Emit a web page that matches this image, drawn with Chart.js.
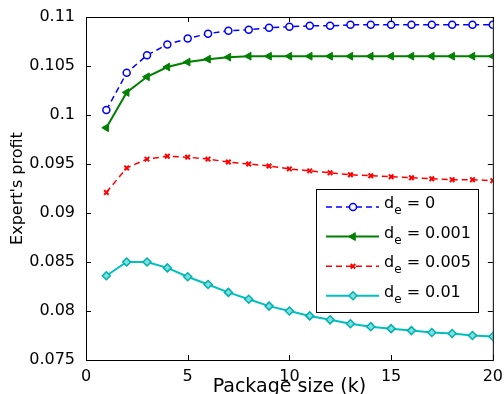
<!DOCTYPE html>
<html>
<head>
<meta charset="utf-8">
<script src="https://cdn.jsdelivr.net/npm/chart.js@4"></script>
<style>
  body { margin: 0; background: #fff; }
  #wrap { width: 504px; height: 394px; }
</style>
</head>
<body>
<div id="wrap"><canvas id="profitChart"></canvas></div>
<script>
// package size k
const packageSizes = [1, 2, 3, 4, 5, 6, 7, 8, 9, 10, 11, 12, 13, 14, 15, 16, 17, 18, 19, 20];

// expert's profit for each d_e
const profitD0    = [0.1005, 0.1043, 0.1061, 0.1072, 0.1078, 0.1083, 0.1086, 0.1087, 0.1089, 0.1090,
                     0.1091, 0.1091, 0.1092, 0.1092, 0.1092, 0.1092, 0.1092, 0.1092, 0.1092, 0.1092];
const profitD001  = [0.0987, 0.1023, 0.1039, 0.1049, 0.1054, 0.1057, 0.1059, 0.1060, 0.1060, 0.1060,
                     0.1060, 0.1060, 0.1060, 0.1060, 0.1060, 0.1060, 0.1060, 0.1060, 0.1060, 0.1060];
const profitD005  = [0.0921, 0.0946, 0.0955, 0.0958, 0.0957, 0.0955, 0.0952, 0.0950, 0.0948, 0.0945,
                     0.0943, 0.0941, 0.0939, 0.0938, 0.0937, 0.0936, 0.0935, 0.0934, 0.0934, 0.0933];
const profitD01   = [0.0836, 0.0850, 0.0850, 0.0844, 0.0835, 0.0827, 0.0819, 0.0812, 0.0805, 0.0800,
                     0.0795, 0.0791, 0.0787, 0.0784, 0.0782, 0.0780, 0.0778, 0.0777, 0.0775, 0.0774];

const seriesValues = ["0", "0.001", "0.005", "0.01"];

const xTicks = [0, 5, 10, 15, 20];
const yTicks = [0.075, 0.08, 0.085, 0.09, 0.095, 0.1, 0.105, 0.11];
const yTickLabels = ["0.075", "0.08", "0.085", "0.09", "0.095", "0.1", "0.105", "0.11"];

const toPoints = ys => ys.map((y, i) => ({ x: packageSizes[i], y: y }));

const FONT = "'DejaVu Sans', sans-serif";

// Rahmen + Ticks nach innen (MATLAB-Stil)
const framePlugin = {
  id: "frame",
  afterDraw(chart) {
    const { ctx, chartArea: a, scales } = chart;
    const len = 5;
    ctx.save();
    ctx.strokeStyle = "#000";
    ctx.lineWidth = 1;
    ctx.strokeRect(a.left + 0.5, a.top + 0.5, a.right - a.left, a.bottom - a.top);
    ctx.beginPath();
    xTicks.forEach(v => {
      const px = Math.round(scales.x.getPixelForValue(v)) + 0.5;
      ctx.moveTo(px, a.bottom); ctx.lineTo(px, a.bottom - len);
      ctx.moveTo(px, a.top); ctx.lineTo(px, a.top + len);
    });
    yTicks.forEach(v => {
      const py = Math.round(scales.y.getPixelForValue(v)) + 0.5;
      ctx.moveTo(a.left, py); ctx.lineTo(a.left + len, py);
      ctx.moveTo(a.right, py); ctx.lineTo(a.right - len, py);
    });
    ctx.stroke();
    ctx.restore();
  }
};

// Legende mit Subscript "e"
const legendPlugin = {
  id: "subLegend",
  afterDraw(chart) {
    const { ctx } = chart;
    const box = { x: 316, y: 189, w: 162, h: 123 };
    ctx.save();
    ctx.fillStyle = "#fff";
    ctx.fillRect(box.x, box.y, box.w, box.h);
    ctx.strokeStyle = "#000";
    ctx.lineWidth = 1;
    ctx.strokeRect(box.x + 0.5, box.y + 0.5, box.w, box.h);

    chart.data.datasets.forEach((ds, i) => {
      const y = box.y + 18 + i * 29.6;
      ctx.strokeStyle = ds.borderColor;
      ctx.lineWidth = ds.borderWidth;
      ctx.setLineDash(ds.borderDash || []);
      ctx.beginPath();
      ctx.moveTo(box.x + 10, y);
      ctx.lineTo(box.x + 63, y);
      ctx.stroke();
      ctx.setLineDash([]);
      ctx.fillStyle = ds.pointBackgroundColor;
      ctx.strokeStyle = ds.pointBorderColor;
      ctx.lineWidth = ds.pointBorderWidth;
      Chart.helpers.drawPoint(ctx, {
        pointStyle: ds.pointStyle,
        rotation: ds.pointRotation || 0,
        radius: ds.pointRadius,
        borderWidth: ds.pointBorderWidth
      }, box.x + 37, y);

      ctx.fillStyle = "#000";
      ctx.textBaseline = "alphabetic";
      ctx.textAlign = "left";
      let tx = box.x + 68;
      ctx.font = "16px " + FONT;
      ctx.fillText("d", tx, y + 1);
      tx += ctx.measureText("d").width;
      ctx.font = "12px " + FONT;
      ctx.fillText("e", tx, y + 7);
      tx += ctx.measureText("e").width;
      ctx.font = "16px " + FONT;
      ctx.fillText(" = " + seriesValues[i], tx, y + 1);
    });
    ctx.restore();
  }
};

new Chart(document.getElementById("profitChart"), {
  type: "line",
  data: {
    datasets: [
      {
        label: "d_e = 0",
        data: toPoints(profitD0),
        borderColor: "#0000ff",
        borderWidth: 1.5,
        borderDash: [6, 4],
        pointStyle: "circle",
        pointRadius: 3.5,
        pointBackgroundColor: "#ffffff",
        pointBorderColor: "#0000ff",
        pointBorderWidth: 1.5
      },
      {
        label: "d_e = 0.001",
        data: toPoints(profitD001),
        borderColor: "#008000",
        borderWidth: 2,
        pointStyle: "triangle",
        pointRotation: -90,
        pointRadius: 4.5,
        pointBackgroundColor: "#008000",
        pointBorderColor: "#008000",
        pointBorderWidth: 1
      },
      {
        label: "d_e = 0.005",
        data: toPoints(profitD005),
        borderColor: "#ff0000",
        borderWidth: 1.5,
        borderDash: [6, 4],
        pointStyle: "crossRot",
        pointRadius: 3.2,
        pointBackgroundColor: "#ff0000",
        pointBorderColor: "#ff0000",
        pointBorderWidth: 2
      },
      {
        label: "d_e = 0.01",
        data: toPoints(profitD01),
        borderColor: "#00bfbf",
        borderWidth: 2,
        pointStyle: "rectRot",
        pointRadius: 4,
        pointBackgroundColor: "#7fdfdf",
        pointBorderColor: "#00b0b0",
        pointBorderWidth: 1.5
      }
    ]
  },
  options: {
    responsive: true,
    maintainAspectRatio: false,
    animation: false,
    layout: { padding: { left: 8, right: 8, top: 17, bottom: 0 } },
    plugins: {
      legend: { display: false },
      tooltip: { enabled: false }
    },
    scales: {
      x: {
        type: "linear",
        min: 0,
        max: 20,
        grid: { display: false },
        border: { display: false },
        afterBuildTicks: s => { s.ticks = xTicks.map(v => ({ value: v })); },
        afterFit: s => { s.height = 34; },
        ticks: {
          padding: 1,
          maxRotation: 0,
          color: "#000",
          font: { family: FONT, size: 16, lineHeight: 1 }
        },
        title: {
          display: true,
          text: "Package size (k)",
          color: "#000",
          padding: { top: 0, bottom: 0 },
          font: { family: FONT, size: 19, lineHeight: 0.75 }
        }
      },
      y: {
        min: 0.075,
        max: 0.11,
        grid: { display: false },
        border: { display: false },
        afterBuildTicks: s => { s.ticks = yTicks.map(v => ({ value: v })); },
        afterFit: s => { s.width = 78; },
        ticks: {
          padding: 3,
          color: "#000",
          font: { family: FONT, size: 16 },
          callback: (v, i) => yTickLabels[i]
        },
        title: {
          display: true,
          text: "Expert's profit",
          color: "#000",
          padding: { top: 0, bottom: 0 },
          font: { family: FONT, size: 16 }
        }
      }
    }
  },
  plugins: [framePlugin, legendPlugin]
});
</script>
</body>
</html>
